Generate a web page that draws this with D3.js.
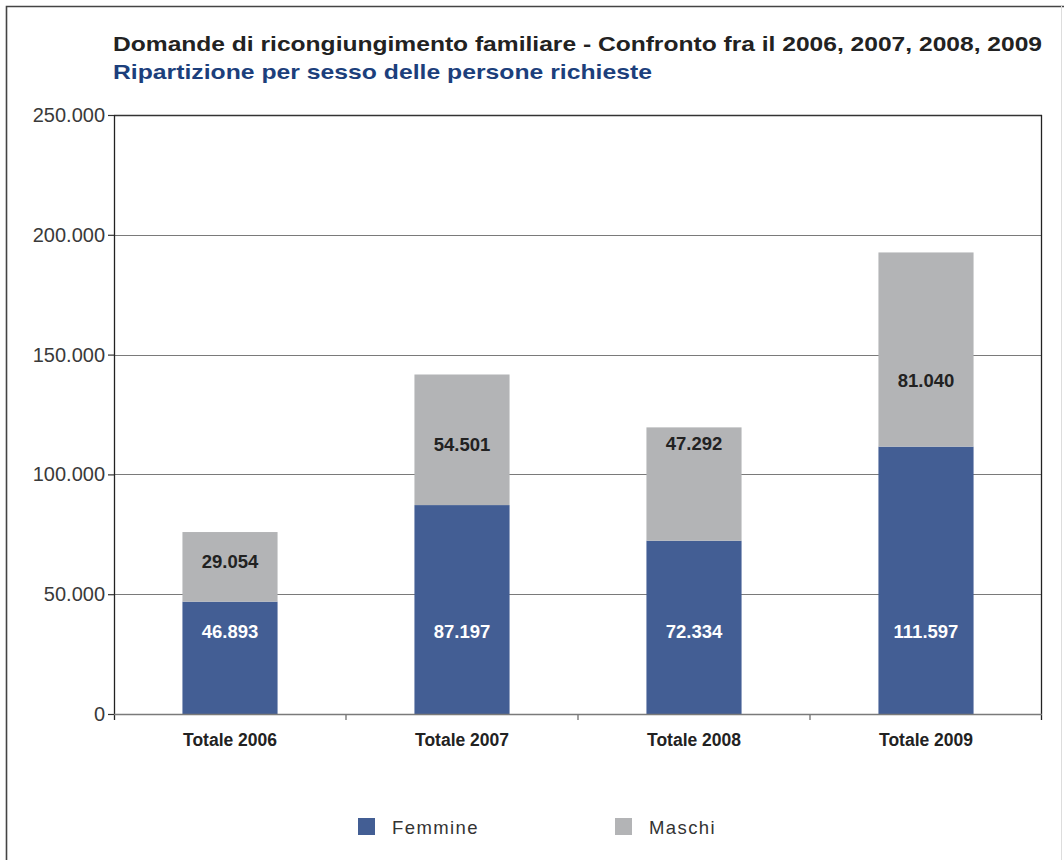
<!DOCTYPE html>
<html>
<head>
<meta charset="utf-8">
<script src="https://cdn.jsdelivr.net/npm/d3@7"></script>
<style>
  html, body { margin: 0; padding: 0; background: #fff; }
  svg { display: block; }
  text { font-family: "Liberation Sans", Arial, sans-serif; }
</style>
</head>
<body>
<svg id="chart" width="1064" height="860"></svg>
<script>
// Data: requested family reunification applications, by sex
const categories = ["Totale 2006", "Totale 2007", "Totale 2008", "Totale 2009"];
const femmine = [46893, 87197, 72334, 111597];
const maschi = [29054, 54501, 47292, 81040];
const seriesNames = ["Femmine", "Maschi"];
const yTicks = [0, 50000, 100000, 150000, 200000, 250000];

const colors = { Femmine: "#435e94", Maschi: "#b3b4b6" };

const svg = d3.select("#chart");
const W = 1064, H = 860;
const margin = { left: 114, right: 22, top: 115, bottom: 146 };
const plotW = W - margin.left - margin.right;
const plotH = H - margin.top - margin.bottom;

// outer frame
svg.append("path")
  .attr("d", `M6.5,${H} V6.5 H${W}`)
  .attr("fill", "none").attr("stroke", "#444").attr("stroke-width", 1.6);
svg.append("line")
  .attr("x1", W - 2.5).attr("x2", W - 2.5).attr("y1", 6).attr("y2", H)
  .attr("stroke", "#ddd").attr("stroke-width", 1);

// titles
svg.append("text")
  .attr("x", 113).attr("y", 51)
  .attr("font-size", 21).attr("font-weight", "bold").attr("fill", "#222")
  .attr("textLength", 929).attr("lengthAdjust", "spacingAndGlyphs")
  .text("Domande di ricongiungimento familiare - Confronto fra il 2006, 2007, 2008, 2009");
svg.append("text")
  .attr("x", 113).attr("y", 79)
  .attr("font-size", 21).attr("font-weight", "bold").attr("fill", "#1c3f7c")
  .attr("textLength", 539).attr("lengthAdjust", "spacingAndGlyphs")
  .text("Ripartizione per sesso delle persone richieste");

const g = svg.append("g").attr("transform", `translate(${margin.left},${margin.top})`);

const x = d3.scaleBand().domain(categories).range([0, plotW]).paddingInner(0.59).paddingOuter(0.295);
const y = d3.scaleLinear().domain([0, 250000]).range([plotH, 0]);

const fmt = v => d3.format(",")(v).replace(/,/g, ".");

// horizontal grid lines
g.selectAll("line.grid").data(yTicks.filter(t => t > 0)).join("line")
  .attr("class", "grid")
  .attr("x1", 0).attr("x2", plotW)
  .attr("y1", d => Math.round(y(d)) + 0.5).attr("y2", d => Math.round(y(d)) + 0.5)
  .attr("stroke", d => d === 250000 ? "#333" : "#7a7a7a")
  .attr("stroke-width", d => d === 250000 ? 1.4 : 1.2);

// stacked bars
const rows = categories.map((c, i) => ({ cat: c, Femmine: femmine[i], Maschi: maschi[i] }));
const stack = d3.stack().keys(seriesNames)(rows);

g.selectAll("g.series").data(stack).join("g")
  .attr("class", "series")
  .attr("fill", d => colors[d.key])
  .selectAll("rect").data(d => d).join("rect")
  .attr("x", d => x(d.data.cat))
  .attr("width", x.bandwidth())
  .attr("y", d => y(d[1]))
  .attr("height", d => y(d[0]) - y(d[1]));

// value labels
g.selectAll("text.fem").data(rows).join("text")
  .attr("class", "fem")
  .attr("x", d => x(d.cat) + x.bandwidth() / 2)
  .attr("y", y(34600))
  .attr("dy", "0.35em")
  .attr("text-anchor", "middle")
  .attr("font-size", 18.5).attr("font-weight", "bold").attr("fill", "#fff")
  .text(d => fmt(d.Femmine));

// vertical placement of the male labels inside the grey segments
const maschiLabelAt = [63800, 112300, 112700, 139000];
g.selectAll("text.mas").data(rows).join("text")
  .attr("class", "mas")
  .attr("x", d => x(d.cat) + x.bandwidth() / 2)
  .attr("y", (d, i) => y(maschiLabelAt[i]))
  .attr("dy", "0.35em")
  .attr("text-anchor", "middle")
  .attr("font-size", 18.5).attr("font-weight", "bold").attr("fill", "#222")
  .text(d => fmt(d.Maschi));

// y axis
const yAxis = g.append("g")
  .call(d3.axisLeft(y).tickValues(yTicks).tickFormat(fmt).tickSize(6).tickPadding(3));
yAxis.select(".domain").remove();
yAxis.selectAll(".tick line").attr("stroke", "#333").attr("stroke-width", 1.2);
yAxis.selectAll(".tick text")
  .attr("font-family", "'Liberation Sans', Arial, sans-serif")
  .attr("font-size", 20).attr("fill", "#3a3a3a").attr("font-weight", "normal");

// left and right vertical axis lines
g.append("line").attr("x1", 0.5).attr("x2", 0.5).attr("y1", 0).attr("y2", plotH + 6)
  .attr("stroke", "#222").attr("stroke-width", 1.3);
g.append("line").attr("x1", plotW - 0.5).attr("x2", plotW - 0.5).attr("y1", 0).attr("y2", plotH + 6)
  .attr("stroke", "#222").attr("stroke-width", 1.3);

// x axis baseline and category separators
g.append("line").attr("x1", 0).attr("x2", plotW).attr("y1", plotH + 0.5).attr("y2", plotH + 0.5)
  .attr("stroke", "#7a7a7a").attr("stroke-width", 1.6);
const step = x.step();
g.selectAll("line.sep").data(categories.slice(1)).join("line")
  .attr("class", "sep")
  .attr("x1", d => x(d) - x.paddingInner() * step / 2)
  .attr("x2", d => x(d) - x.paddingInner() * step / 2)
  .attr("y1", plotH).attr("y2", plotH + 6)
  .attr("stroke", "#7a7a7a").attr("stroke-width", 1.4);

// category labels
g.selectAll("text.cat").data(categories).join("text")
  .attr("class", "cat")
  .attr("x", d => x(d) + x.bandwidth() / 2)
  .attr("y", plotH + 32)
  .attr("text-anchor", "middle")
  .attr("font-size", 17.5).attr("font-weight", "bold").attr("fill", "#222")
  .text(d => d);

// legend
const legendX = [358, 615];
const legend = svg.selectAll("g.legend").data(seriesNames).join("g")
  .attr("class", "legend")
  .attr("transform", (d, i) => `translate(${legendX[i]},818)`);
legend.append("rect").attr("width", 17).attr("height", 17).attr("fill", d => colors[d]);
legend.append("text")
  .attr("x", 34).attr("y", 16)
  .attr("font-size", 18.5).attr("fill", "#333").attr("letter-spacing", 1.4)
  .text(d => d);
</script>
</body>
</html>
